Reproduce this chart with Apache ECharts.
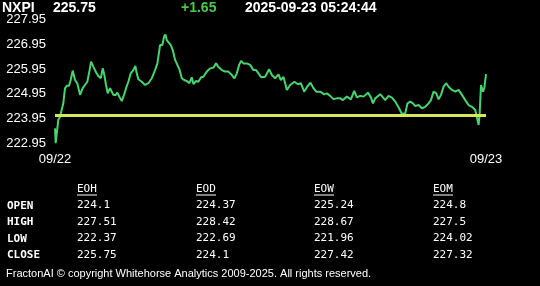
<!DOCTYPE html>
<html>
<head>
<meta charset="utf-8">
<script src="https://cdn.jsdelivr.net/npm/echarts@6/dist/echarts.min.js"></script>
<style>
html,body{margin:0;padding:0;background:#000;}
#c{width:540px;height:286px;}
</style>
</head>
<body>
<div id="c"></div>
<script>
// Header
const symbol = 'NXPI';
const lastPrice = '225.75';
const change = '+1.65';
const stamp = '2025-09-23 05:24:44';

// Price trace (t = elapsed time units from session start)
const t = [0,0.7,2.3,3.3,5,6.7,8.3,10,11.7,14,15.7,17.7,20,22.3,25,27.7,30,32.3,34.3,36,38.3,41,43.3,45.7,47.7,49.3,51,52.7,55,56.7,58.3,60.7,62.3,64.3,66.7,69,71,73.3,75.7,78.3,80.3,81.7,83.3,86.7,90,93.3,96.7,100,102.3,105,107.3,109,110.3,111.7,113.3,115.7,117.7,120,122.3,124.3,126.7,129,131.7,134.3,136.7,138.3,141,143.3,146,148.3,151.7,155,158.3,161,163.3,166.7,170,173.3,176.7,179.3,181.7,184,186,188.3,191.7,195,198.3,201,203.3,206,210,214,216.7,220,223.3,225.7,228.3,231.7,235,239.3,242.7,245.7,249,252,255.3,258.3,261,265,269,271.7,275,278.3,281.7,285,287.7,291.7,295.7,299,301.7,305,308.3,312.7,315.7,317.7,320,325,330,333.3,336.7,340,343.3,346.7,350,352.3,355,357.7,360,363.3,366.7,370,373.3,375.7,378.3,381,383.3,385.7,388.3,391,393.3,396.7,400,403.3,406.7,410,413.3,416.7,420,421.7,423.3,424.3,425.7,427.7,429,430.7];
const price = [223.56,222.96,222.96,223.90,224.03,223.97,224.57,225.18,225.28,225.28,225.51,225.89,225.51,225.38,224.91,225.18,225.31,225.44,225.85,226.25,226.05,225.82,225.67,225.58,225.98,225.71,225.31,224.97,225.18,225.18,224.91,224.91,225.00,224.84,224.66,224.91,225.18,225.44,225.78,225.91,226.08,225.78,225.54,225.44,225.31,225.38,225.58,225.91,226.18,226.92,226.92,227.26,227.35,227.12,227.05,226.92,226.72,226.32,226.12,225.94,225.58,225.51,225.47,225.38,225.62,225.35,225.47,225.44,225.62,225.64,225.85,225.98,226.01,226.18,226.03,225.91,225.85,225.85,225.71,225.58,225.78,226.12,226.28,226.18,226.18,226.12,225.91,225.91,225.78,225.62,225.64,225.94,225.71,225.58,225.74,225.51,225.64,225.11,225.31,225.44,225.34,225.38,225.04,225.24,225.40,225.18,225.04,225.04,224.93,224.97,224.87,224.74,224.77,224.77,224.70,224.84,224.73,225.07,224.81,224.87,224.84,225.00,224.81,224.57,224.77,224.94,224.70,224.87,224.80,224.64,224.41,224.14,224.17,224.57,224.64,224.57,224.46,224.50,224.37,224.43,224.57,224.70,225.04,224.97,224.73,224.91,225.24,225.38,225.24,225.11,225.04,225.11,224.91,224.70,224.50,224.43,224.30,224.37,223.70,224.10,225.31,225.04,225.18,225.75];
const openLevel = 224.1;

// Axes
const xLabels = ['09/22', '09/23'];
const yMin = 222.95, yMax = 227.95, yStep = 1;

// Table
const tableCols = ['EOH', 'EOD', 'EOW', 'EOM'];
const rowLabels = ['OPEN', 'HIGH', 'LOW', 'CLOSE'];
const eoh = ['224.1', '227.51', '222.37', '225.75'];
const eod = ['224.37', '228.42', '222.69', '224.1'];
const eow = ['225.24', '228.67', '221.96', '227.42'];
const eom = ['224.8', '227.5', '224.02', '227.32'];
const footer = 'FractonAI \u00A9 copyright Whitehorse Analytics 2009-2025. All rights reserved.';

const chart = echarts.init(document.getElementById('c'), null, {renderer: 'canvas'});
const tEnd = t[t.length - 1];

const mono = '11px "DejaVu Sans Mono", "Liberation Mono", monospace';
const hdrFont = 'bold 14px "Liberation Sans", Arial, sans-serif';
const graphics = [];
graphics.push({type:'text', left: 2, top: 1, style:{text: symbol, fill:'#fff', font: hdrFont}});
graphics.push({type:'text', left: 53, top: 1, style:{text: lastPrice, fill:'#fff', font: hdrFont}});
graphics.push({type:'text', left: 181, top: 1, style:{text: change, fill:'#44cc44', font: hdrFont}});
graphics.push({type:'text', left: 245, top: 1, style:{text: stamp, fill:'#fff', font: hdrFont}});

const colX = [77, 196, 314, 433];
const rowY = [200, 216.5, 233, 249.5];
const cols = [eoh, eod, eow, eom];
tableCols.forEach((h, i) => {
  graphics.push({type:'text', x: colX[i], y: 184, style:{text: h, fill:'#fff', font: mono}});
  graphics.push({type:'line', shape:{x1: colX[i], y1: 195, x2: colX[i] + 20, y2: 195}, style:{stroke:'#fff', lineWidth: 1}});
  cols[i].forEach((v, r) => {
    graphics.push({type:'text', x: colX[i], y: rowY[r], style:{text: v, fill:'#fff', font: mono}});
  });
});
rowLabels.forEach((l, r) => {
  graphics.push({type:'text', x: 7, y: rowY[r] + 0.5, style:{text: l, fill:'#fff', font: 'bold ' + mono}});
});
graphics.push({type:'text', x: 6, y: 268, style:{text: footer, fill:'#fff', font: '11px "Liberation Sans", Arial, sans-serif'}});

chart.setOption({
  backgroundColor: '#000',
  animation: false,
  grid: {left: 55, right: 54, top: 19.5, bottom: 142.5, containLabel: false},
  xAxis: {
    type: 'value', min: 0, max: tEnd,
    axisLine: {show: false}, axisTick: {show: false}, splitLine: {show: false},
    axisLabel: {
      customValues: [0, tEnd], showMinLabel: true, showMaxLabel: true,
      color: '#fff', fontSize: 13, fontFamily: '"Liberation Sans", Arial, sans-serif', margin: 9,
      formatter: v => (v === 0 ? xLabels[0] : xLabels[1])
    }
  },
  yAxis: {
    type: 'value', min: yMin, max: yMax, interval: yStep,
    axisLine: {show: false}, axisTick: {show: false}, splitLine: {show: false},
    axisLabel: {color: '#fff', fontSize: 13, fontFamily: '"Liberation Sans", Arial, sans-serif', margin: 9,
      formatter: v => Number(v).toFixed(2)}
  },
  series: [{
    type: 'line',
    data: t.map((x, i) => [x, price[i]]),
    showSymbol: false,
    lineStyle: {color: '#45d46e', width: 2},
    z: 3,
    markLine: {
      silent: true, symbol: 'none', label: {show: false},
      lineStyle: {color: '#d6e85a', width: 3, type: 'solid'},
      data: [{yAxis: openLevel}]
    }
  }],
  graphic: graphics
});
</script>
</body>
</html>
